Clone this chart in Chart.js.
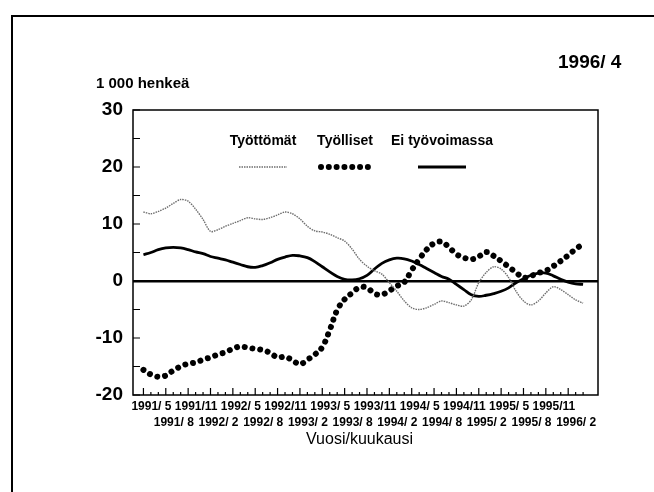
<!DOCTYPE html>
<html>
<head>
<meta charset="utf-8">
<script src="https://cdn.jsdelivr.net/npm/chart.js@4.4.1/dist/chart.umd.min.js"></script>
<style>
  body { margin: 0; background: #fff; }
  #wrap { position: relative; width: 654px; height: 492px; font-family: "Liberation Sans", Arial, sans-serif; font-weight: bold; color: #000; }
  #chart { display: block; }
  #frame { position: absolute; left: 11px; top: 15px; right: 0; bottom: 0; border-top: 2px solid #000; border-left: 2px solid #000; }
  .lbl { position: absolute; white-space: nowrap; line-height: 1; }
</style>
</head>
<body>
<div id="wrap">
  <canvas id="chart" width="654" height="492"></canvas>
  <div id="frame"></div>
  <div class="lbl" style="left:558px;top:52px;font-size:19px">1996/ 4</div>
  <div class="lbl" style="left:96px;top:75px;font-size:15px">1 000 henkeä</div>
  <div class="lbl" style="left:306px;top:431px;font-size:16px;font-weight:normal">Vuosi/kuukausi</div>
</div>
<script>
// monthly values, 1991/5 .. 1996/4 (1 000 persons)
const tickLabels = ['1991/ 5', '1991/ 8', '1991/11', '1992/ 2', '1992/ 5', '1992/ 8', '1992/11',
  '1993/ 2', '1993/ 5', '1993/ 8', '1993/11', '1994/ 2', '1994/ 5', '1994/ 8', '1994/11',
  '1995/ 2', '1995/ 5', '1995/ 8', '1995/11', '1996/ 2'];
const seriesNames = ['Työttömät', 'Työlliset', 'Ei työvoimassa'];
const yTicks = [-20, -10, 0, 10, 20, 30];

const tyottomat = [12.1, 11.8, 12.2, 12.8, 13.6, 14.3, 14.0, 12.6, 10.8, 8.7,
  9.0, 9.6, 10.1, 10.6, 11.1, 10.9, 10.8, 11.1, 11.6, 12.1,
  11.8, 10.9, 9.6, 8.8, 8.6, 8.2, 7.6, 7.0, 5.6, 3.8,
  2.6, 1.8, 1.2, -0.3, -1.8, -3.5, -4.7, -5.0, -4.7, -4.1,
  -3.5, -3.8, -4.2, -4.4, -3.3, -0.3, 1.5, 2.5, 2.1, 0.6,
  -1.8, -3.5, -4.2, -3.5, -2.1, -1.0, -1.5, -2.4, -3.3, -3.9];
const tyolliset = [-15.6, -16.4, -16.8, -16.6, -15.7, -15.0, -14.5, -14.3, -13.8, -13.4,
  -12.9, -12.5, -11.9, -11.5, -11.7, -11.9, -12.1, -12.6, -13.4, -13.3,
  -13.9, -14.6, -13.8, -12.9, -11.6, -8.6, -5.1, -3.2, -2.1, -1.1,
  -1.2, -2.2, -2.4, -1.7, -0.9, -0.2, 1.9, 3.8, 5.5, 6.6,
  6.9, 5.9, 4.7, 4.1, 3.8, 4.3, 5.1, 4.4, 3.5, 2.5,
  1.5, 0.6, 0.9, 1.4, 1.8, 2.6, 3.5, 4.5, 5.6, 6.5];
const eiTyovoimassa = [4.6, 5.0, 5.5, 5.8, 5.9, 5.8, 5.5, 5.1, 4.8, 4.3,
  4.0, 3.7, 3.3, 2.9, 2.5, 2.4, 2.7, 3.2, 3.8, 4.2,
  4.5, 4.4, 4.1, 3.4, 2.5, 1.6, 0.8, 0.3, 0.2, 0.4,
  1.0, 2.1, 3.1, 3.7, 4.0, 3.9, 3.5, 2.9, 2.2, 1.5,
  0.8, 0.3, -0.6, -1.5, -2.4, -2.7, -2.5, -2.2, -1.8, -1.2,
  -0.3, 0.4, 1.0, 1.4, 1.4, 0.9, 0.3, -0.2, -0.5, -0.6];

const FONT = '"Liberation Sans", Arial, sans-serif';

// plot box + inward tick marks
const frameTicks = {
  id: 'frameTicks',
  afterDraw(chart) {
    const { ctx, chartArea: a, scales: { x, y } } = chart;
    ctx.save();
    ctx.strokeStyle = '#000';
    ctx.lineWidth = 1.5;
    ctx.strokeRect(a.left, a.top, a.right - a.left, a.bottom - a.top);
    ctx.lineWidth = 1.2;
    ctx.beginPath();
    x.ticks.forEach(t => {
      const px = x.getPixelForValue(t.value);
      const len = t.value % 3 ? 3 : 7;
      ctx.moveTo(px, a.bottom);
      ctx.lineTo(px, a.bottom - len);
    });
    y.ticks.forEach(t => {
      const py = y.getPixelForValue(t.value);
      ctx.moveTo(a.left, py);
      ctx.lineTo(a.left + 7, py);
    });
    ctx.stroke();
    ctx.restore();
  }
};

// legend inside the plot: name above a line sample
const inlineLegend = {
  id: 'inlineLegend',
  afterDatasetsDraw(chart, args, opts) {
    const ctx = chart.ctx;
    chart.data.datasets.forEach((ds, i) => {
      const cx = opts.centers[i];
      ctx.save();
      ctx.font = 'bold 14px ' + FONT;
      ctx.fillStyle = '#000';
      ctx.textAlign = 'center';
      ctx.textBaseline = 'middle';
      ctx.fillText(ds.label, cx, opts.textY);
      ctx.strokeStyle = ds.borderColor;
      ctx.lineWidth = ds.borderWidth;
      ctx.setLineDash(ds.borderDash || []);
      ctx.lineCap = ds.borderCapStyle || 'butt';
      ctx.beginPath();
      ctx.moveTo(cx - opts.half, opts.lineY);
      ctx.lineTo(cx + opts.half, opts.lineY);
      ctx.stroke();
      ctx.restore();
    });
  }
};

new Chart(document.getElementById('chart'), {
  type: 'line',
  data: {
    labels: tyottomat.map((_, i) => i),
    datasets: [{
      label: seriesNames[0],
      data: tyottomat,
      borderColor: '#6e6e6e',
      borderWidth: 1.4,
      borderDash: [1.5, 1],
      pointRadius: 0,
      tension: 0.3
    }, {
      label: seriesNames[1],
      data: tyolliset,
      borderColor: '#000',
      borderWidth: 6,
      borderDash: [0.01, 7.8],
      borderCapStyle: 'round',
      pointRadius: 0,
      tension: 0.4
    }, {
      label: seriesNames[2],
      data: eiTyovoimassa,
      borderColor: '#000',
      borderWidth: 2.8,
      pointRadius: 0,
      tension: 0.4
    }]
  },
  options: {
    responsive: false,
    devicePixelRatio: 1,
    animation: false,
    layout: { padding: { top: 110, right: 56, left: 0, bottom: 0 } },
    plugins: {
      legend: { display: false },
      tooltip: { enabled: false },
      inlineLegend: { centers: [263, 345, 442], textY: 141, lineY: 167, half: 24 }
    },
    scales: {
      x: {
        type: 'linear',
        min: -1.4,
        max: 61,
        afterBuildTicks: s => { s.ticks = tyottomat.map((_, i) => ({ value: i })); },
        afterFit: s => { s.height = 97; },
        grid: { display: false, drawTicks: false },
        border: { display: false },
        ticks: {
          autoSkip: false,
          maxRotation: 0,
          padding: 4,
          labelOffset: 8,
          color: '#000',
          font: { family: FONT, size: 12, weight: 'bold', lineHeight: '16px' },
          callback: v => {
            if (v % 3) return '';
            const k = v / 3;
            const t = tickLabels[k];
            if (!t) return '';
            return k % 2 ? ['', t] : [t];
          }
        }
      },
      y: {
        min: -20,
        max: 30,
        afterFit: s => { s.width = 133; },
        grid: {
          drawTicks: false,
          color: c => c.tick && c.tick.value === 0 ? '#000' : 'rgba(0,0,0,0)',
          lineWidth: c => c.tick && c.tick.value === 0 ? 2.5 : 0
        },
        border: { display: false },
        ticks: {
          stepSize: 5,
          padding: 10,
          color: '#000',
          font: { family: FONT, size: 19, weight: 'bold' },
          callback: v => yTicks.includes(v) ? String(v) : ''
        }
      }
    }
  },
  plugins: [frameTicks, inlineLegend]
});
</script>
</body>
</html>
